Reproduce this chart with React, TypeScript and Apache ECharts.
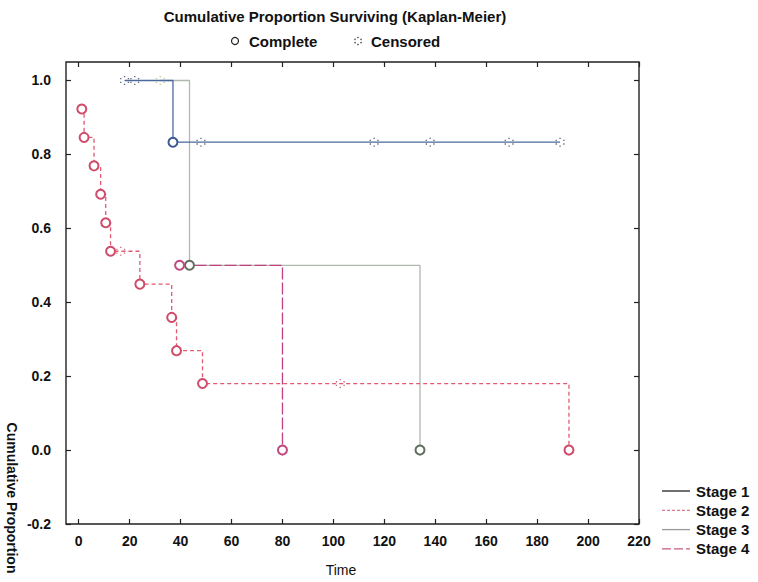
import React, { useEffect, useRef } from 'react';
import * as echarts from 'echarts';

const xTicks = [0, 20, 40, 60, 80, 100, 120, 140, 160, 180, 200, 220];
const yTicks = [-0.2, 0, 0.2, 0.4, 0.6, 0.8, 1.0];

const stage1Time = [18, 22, 37, 48, 116, 138, 169, 189];
const stage1Surv = [1, 1, 0.833, 0.833, 0.833, 0.833, 0.833, 0.833];
const stage1Cens = [1, 1, 0, 1, 1, 1, 1, 1];

const stage2Time = [1.2, 2.1, 6, 8.6, 10.6, 12.5, 16.5, 24, 36.5, 38.4, 48.6, 102.7, 192.5];
const stage2Surv = [0.923, 0.846, 0.769, 0.692, 0.615, 0.538, 0.538, 0.449, 0.359, 0.269, 0.18, 0.18, 0];
const stage2Cens = [0, 0, 0, 0, 0, 0, 1, 0, 0, 0, 0, 1, 0];

const stage3Time = [32, 43.5, 134];
const stage3Surv = [1, 0.5, 0];
const stage3Cens = [1, 0, 0];

const stage4Time = [39.6, 80];
const stage4Surv = [0.5, 0];
const stage4Cens = [0, 0];

const legendNames = ['Stage 1', 'Stage 2', 'Stage 3', 'Stage 4'];

const FONT = "'Liberation Sans', Arial, sans-serif";
const CENS_PATH =
  'path://M4.3,0h1.4v1.4h-1.4z M8.3,2.3h1.4v1.4h-1.4z M8.3,6.3h1.4v1.4h-1.4z M4.3,8.6h1.4v1.4h-1.4z M0.3,6.3h1.4v1.4h-1.4z M0.3,2.3h1.4v1.4h-1.4z';

function makeSeries(
  name: string,
  times: number[],
  surv: number[],
  cens: number[],
  lineColor: string,
  circleColor: string,
  dash: any,
  censColor: string
) {
  return {
    name,
    type: 'line',
    step: 'end',
    xAxisIndex: 0,
    yAxisIndex: 0,
    showAllSymbol: true,
    lineStyle: { color: lineColor, width: 1.3, type: dash },
    itemStyle: { color: circleColor },
    data: times.map((t, i) => ({
      value: [t, surv[i]],
      symbol: cens[i] ? CENS_PATH : 'emptyCircle',
      symbolSize: 9,
      itemStyle: cens[i]
        ? { color: censColor, borderWidth: 0 }
        : { color: circleColor, borderColor: circleColor, borderWidth: 1.4 },
    })),
  };
}

export default function App() {
  const ref = useRef<HTMLDivElement>(null);
  useEffect(() => {
    if (!ref.current) return;
    const chart = echarts.init(ref.current, undefined, { renderer: 'svg' });
    const tickStyle = { show: true, inside: true, length: 5, lineStyle: { color: '#222', width: 1.2 } };
    const noLine = { show: false, onZero: false };
    const legendColors = ['#222222', '#e07890', '#9a9a9a', '#c85a80'];
    const legendDash: any[] = ['solid', [3, 2], 'solid', [9, 3]];
    const legendGraphics: any[] = [];
    legendNames.forEach((n, i) => {
      const y = 491 + i * 19.3;
      legendGraphics.push({
        type: 'line',
        shape: { x1: 662, y1: y, x2: 690, y2: y },
        style: { stroke: legendColors[i], lineWidth: 1.3, lineDash: legendDash[i] === 'solid' ? null : legendDash[i] },
      });
      legendGraphics.push({
        type: 'text',
        x: 696,
        y,
        style: { text: n, font: `bold 15px ${FONT}`, fill: '#111', textVerticalAlign: 'middle' },
      });
    });
    const censDots: any[] = [];
    const cx = 358, cy = 41;
    [[0, -3.5], [3, -1.7], [3, 1.7], [0, 3.5], [-3, 1.7], [-3, -1.7]].forEach(([dx, dy]) => {
      censDots.push({ type: 'circle', shape: { cx: cx + dx, cy: cy + dy, r: 0.75 }, style: { fill: '#444' } });
    });

    chart.setOption({
      animation: false,
      backgroundColor: '#fff',
      grid: { left: 66, right: 119, top: 62, bottom: 58, show: true, borderColor: '#222', borderWidth: 1.4, backgroundColor: 'transparent' },
      xAxis: [
        {
          type: 'value', min: -5, max: 220, position: 'bottom',
          axisLine: noLine, splitLine: { show: false },
          axisTick: { ...tickStyle, customValues: xTicks },
          axisLabel: { customValues: xTicks, color: '#111', fontFamily: FONT, fontSize: 14, fontWeight: 'bold', margin: 10 },
        },
        {
          type: 'value', min: -5, max: 220, position: 'top',
          axisLine: noLine, splitLine: { show: false },
          axisTick: { ...tickStyle, customValues: xTicks },
          axisLabel: { show: false },
        },
      ],
      yAxis: [
        {
          type: 'value', min: -0.2, max: 1.05, position: 'left',
          axisLine: noLine, splitLine: { show: false },
          axisTick: { ...tickStyle, customValues: yTicks },
          axisLabel: {
            customValues: yTicks, color: '#111', fontFamily: FONT, fontSize: 14, fontWeight: 'bold', margin: 15,
            formatter: (v: number) => (yTicks.some((t) => Math.abs(t - v) < 1e-6) ? v.toFixed(1) : ''),
          },
        },
        {
          type: 'value', min: -0.2, max: 1.05, position: 'right',
          axisLine: noLine, splitLine: { show: false },
          axisTick: { ...tickStyle, customValues: yTicks },
          axisLabel: { show: false },
        },
      ],
      series: [
        makeSeries('Stage 3', stage3Time, stage3Surv, stage3Cens, '#b0b8b0', '#5f6f5f', 'solid', '#c0c090'),
        makeSeries('Stage 4', stage4Time, stage4Surv, stage4Cens, '#c04080', '#c04880', [12, 3], '#c04880'),
        makeSeries('Stage 2', stage2Time, stage2Surv, stage2Cens, '#e05a72', '#d04a6a', [4, 3], '#c87080'),
        makeSeries('Stage 1', stage1Time, stage1Surv, stage1Cens, '#4a6a9c', '#3a5a90', 'solid', '#606880'),
      ],
      graphic: [
        {
          type: 'text', x: 335, y: 16,
          style: { text: 'Cumulative Proportion Surviving (Kaplan-Meier)', font: `bold 15px ${FONT}`, fill: '#111', textAlign: 'center', textVerticalAlign: 'middle' },
        },
        { type: 'circle', shape: { cx: 235, cy: 41, r: 3.5 }, style: { fill: 'none', stroke: '#222', lineWidth: 1.2 } },
        {
          type: 'text', x: 249, y: 41,
          style: { text: 'Complete', font: `bold 15px ${FONT}`, fill: '#111', textVerticalAlign: 'middle' },
        },
        ...censDots,
        {
          type: 'text', x: 371, y: 41,
          style: { text: 'Censored', font: `bold 15px ${FONT}`, fill: '#111', textVerticalAlign: 'middle' },
        },
        {
          type: 'text', x: 341, y: 570,
          style: { text: 'Time', font: `14px ${FONT}`, fill: '#111', textAlign: 'center', textVerticalAlign: 'middle' },
        },
        {
          type: 'text', x: 12, y: 498, rotation: -Math.PI / 2,
          style: { text: 'Cumulative Proportion', font: `bold 14px ${FONT}`, fill: '#111', textAlign: 'center', textVerticalAlign: 'middle' },
        },
        ...legendGraphics,
      ],
    });
    return () => chart.dispose();
  }, []);
  return <div ref={ref} style={{ position: 'fixed', left: 0, top: 0, width: 758, height: 582 }} />;
}
